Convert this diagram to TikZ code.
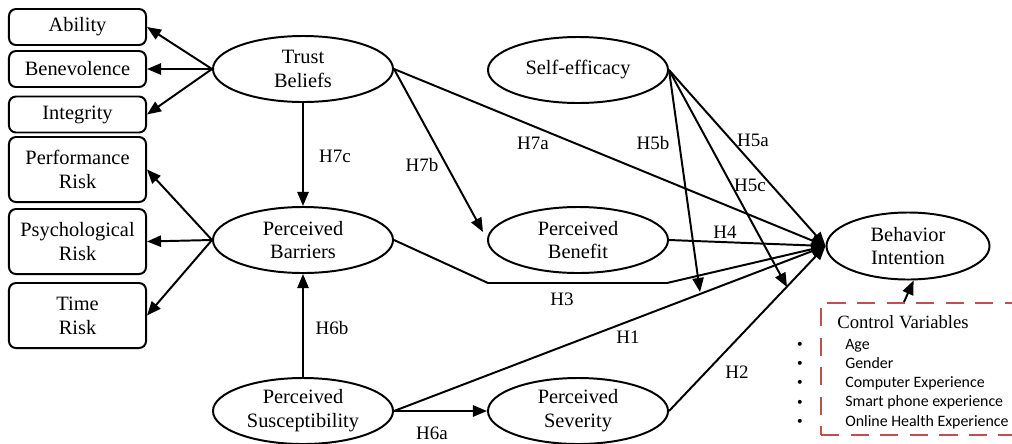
\documentclass[tikz,border=0pt]{standalone}
\usepackage{fontspec}
\setmainfont{Liberation Serif}
\newfontfamily\tnr{Liberation Serif}
\newfontfamily\itemfont{Carlito}
\usetikzlibrary{arrows.meta,shapes.geometric}
\definecolor{cvred}{HTML}{C0504D}
\begin{document}
\begin{tikzpicture}[x=0.025cm,y=-0.025cm,
  construct/.style={ellipse,draw,line width=1.4pt,minimum width=4.5cm,minimum height=1.65cm,
    inner sep=0pt,align=center,font=\tnr\fontsize{14.5}{17}\selectfont},
  dimbox/.style={rectangle,rounded corners=5pt,draw,line width=1.4pt,minimum width=3.425cm,
    inner sep=0pt,align=center,font=\tnr\fontsize{14.5}{17}\selectfont},
  onebox/.style={dimbox,minimum height=0.9cm},
  twobox/.style={dimbox,minimum height=1.625cm},
  link/.style={line width=1.4pt,-{Triangle[length=10pt,width=8pt]}},
  hyp/.style={font=\tnr\fontsize{13.5}{16}\selectfont,inner sep=0pt},
  cvbox/.style={draw=cvred,line width=1.6pt,dash pattern=on 13pt off 8pt},
  cvitem/.style={font=\itemfont\fontsize{11.3}{13.5}\selectfont,anchor=base west,inner sep=0pt},
  cvbullet/.style={font=\itemfont\fontsize{8}{10}\selectfont,anchor=base,inner sep=0pt},
]
\useasboundingbox (0,0) rectangle (1012,443);

% indicator boxes
\node[onebox] (ab)  at (77.5,27)    {Ability};
\node[onebox] (be)  at (77.5,69)    {Benevolence};
\node[onebox] (in)  at (77.5,114.5) {Integrity};
\node[twobox] (pr)  at (77.5,169.5) {Performance\\Risk};
\node[twobox] (psr) at (77.5,241.5) {Psychological\\Risk};
\node[twobox] (tr)  at (77.5,315.5) {Time\\Risk};

% constructs
\node[construct] (tb)   at (303,69)  {Trust\\Beliefs};
\node[construct] (pb)   at (303,240) {Perceived\\Barriers};
\node[construct] (ps)   at (303,411) {Perceived\\Susceptibility};
\node[construct] (se)   at (578,70)  {Self-efficacy};
\node[construct] (pben) at (578,240) {Perceived\\Benefit};
\node[construct] (psev) at (578,411) {Perceived\\Severity};
\node[construct,minimum width=4.075cm,minimum height=1.675cm] (bi) at (908,246) {Behavior\\Intention};

% control variables
\node[cvbox,minimum width=5.3cm,minimum height=3.3cm,inner sep=0pt,anchor=north west] (cv) at (820,302) {};
\node[font=\tnr\fontsize{13.3}{16}\selectfont,anchor=base west,inner sep=0pt] (cvt) at (837,328) {Control Variables};
\foreach \i/\t in {1/Age,2/Gender,3/Computer Experience,4/Smart phone experience,5/Online Health Experience}{
  \node[cvbullet] (cvb\i) at (800,{347.5+19.2*(\i-1)}) {•};
  \node[cvitem] (cvi\i) at (845,{349.3+19.2*(\i-1)}) {\t};
}

% helper points
\coordinate (h3a) at (488,283);
\coordinate (h3b) at (667,283);
\coordinate (h5b) at (700,292);
\coordinate (h5c) at (787,287);
\coordinate (cvtop) at (904,302);

% indicator arrows
\draw[link] (tb.west) -- (ab.east);
\draw[link] (tb.west) -- (be.east);
\draw[link] (tb.west) -- (in.east);
\draw[link] (pb.west) -- (pr.east);
\draw[link] (pb.west) -- (psr.east);
\draw[link] (pb.west) -- (tr.east);

% hypotheses
\draw[link] (tb.south) -- (pb.north);
\node[hyp] (l7c) at (335,156) {H7c};
\draw[link] (ps.north) -- (pb.south);
\node[hyp] (l6b) at (332,328) {H6b};
\draw[link] (ps.east) -- (psev.west);
\node[hyp] (l6a) at (432,433) {H6a};
\draw[link] (ps.east) -- (bi.west);
\node[hyp] (l1) at (628,337) {H1};
\draw[link] (psev.east) -- (bi.west);
\node[hyp] (l2) at (737,372) {H2};
\draw[link] (pb.east) -- (h3a) -- (h3b) -- (bi.west);
\node[hyp] (l3) at (562,299) {H3};
\draw[link] (pben.east) -- (bi.west);
\node[hyp] (l4) at (725,232) {H4};
\draw[link] (tb.east) -- (bi.west);
\node[hyp] (l7a) at (533,143) {H7a};
\draw[link] (tb.east) -- ([shift={(-4,-8)}]pben.west);
\node[hyp] (l7b) at (422,165) {H7b};
\draw[link] (se.east) -- (bi.west);
\node[hyp] (l5a) at (753,140) {H5a};
\draw[link] (se.east) -- (h5b);
\node[hyp] (l5b) at (653,143) {H5b};
\draw[link] (se.east) -- (h5c);
\node[hyp] (l5c) at (750,185) {H5c};
\draw[link] (cvtop) -- ([xshift=4]bi.south);
\end{tikzpicture}
\end{document}
